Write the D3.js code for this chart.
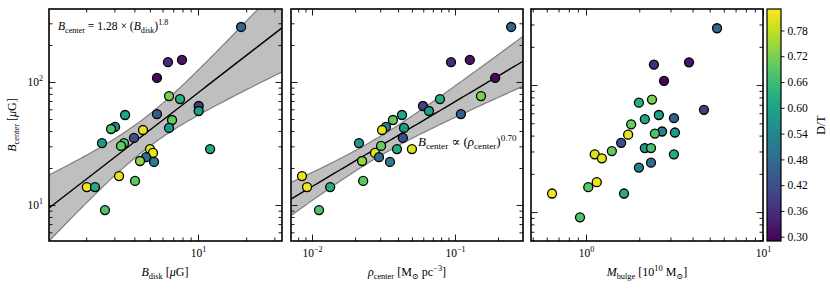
<!DOCTYPE html>
<html>
<head>
<meta charset="utf-8">
<script src="https://cdn.jsdelivr.net/npm/d3@7"></script>
<style>
body { margin: 0; background: #fff; }
text, tspan { font-family: "Liberation Serif", "DejaVu Serif", serif; fill: #000; }
</style>
</head>
<body>
<svg id="chart" width="830" height="291"></svg>
<script>
// one entry per galaxy, null = not shown in that panel
var bCenter = [280, 145, 151, 108, 76.9, 72.7, 63.8, 58.1, 53.9, 54.9, 49.1, 43.1, 41.5, 42.3, 40.7,
  35.1, 31.9, 31.9, 30.2, 28.5, 26.5, 24.5, 22.8, 22.4, 28.5, 17.2, 15.7, 14.0, 14.0, 9.1];
var bDisk = [18.6, 6.49, 7.94, 5.54, 6.59, 7.72, 10.1, 10.1, 3.50, 5.54, 6.88, 3.03, 2.86, 6.59, 4.53,
  3.98, 2.51, 3.45, 3.30, 5.01, 5.23, 4.73, 4.34, 5.31, 11.9, 3.21, 4.04, 2.02, 2.27, 2.62];
var rhoCenter = [0.247, 0.0938, 0.127, 0.191, 0.152, 0.0785, 0.0597, 0.0658, 0.0426, 0.110, 0.0368, 0.0329, null, 0.0440, 0.0309,
  0.0432, 0.0213, null, 0.0304, 0.0500, 0.0276, 0.0294, 0.0224, 0.0351, 0.0393, 0.00851, 0.0228, 0.00923, 0.0134, 0.0112];
var mBulge = [5.50, 2.42, 3.82, 2.76, 2.36, 1.99, 4.64, 2.58, 2.15, 3.14, 1.80, 2.69, 2.45, 3.18, 1.73,
  1.58, 2.15, 2.33, 1.40, 1.12, 1.23, 2.33, null, 1.99, 3.14, 1.15, 1.03, 0.643, 1.64, 0.925];
var diskToTotal = [0.47, 0.355, 0.32, 0.30, 0.72, 0.63, 0.39, 0.59, 0.61, 0.45, 0.70, 0.53, 0.68, 0.58, 0.81,
  0.42, 0.58, 0.67, 0.70, 0.80, 0.81, 0.48, 0.74, 0.52, 0.62, 0.81, 0.69, 0.82, 0.62, 0.68];

// fits: log10(B) = a + b*log10(x); band half width = sqrt(h0^2 + k^2 (log10 x - m)^2)
var fitDisk = [0.907, 1.005];
var bandDisk = [0.67, 0.13, 0.39];
var fitRho = [2.530, 0.69];
var bandRho = [-1.55, 0.079, 0.182];

var xLimDisk = [1.171, 33.5];
var xLimRho = [0.00713, 0.299];
var xLimBulge = [0.489, 10];
var yLimB = [5.10, 392];
var yLimBulgePanel = [5.92, 397];
var dtLim = [0.29, 0.83];
var dtTicks = [0.30, 0.36, 0.42, 0.48, 0.54, 0.60, 0.66, 0.72, 0.78];

var svg = d3.select("#chart");
var plotTop = 9, plotBottom = 241;
var color = d3.scaleSequential(d3.interpolateViridis).domain(dtLim);

var panels = [
  { xs: bDisk, xLim: xLimDisk, yLim: yLimB, left: 49, right: 282, fit: fitDisk, band: bandDisk, yLabels: true },
  { xs: rhoCenter, xLim: xLimRho, yLim: yLimB, left: 291, right: 523, fit: fitRho, band: bandRho, yLabels: false },
  { xs: mBulge, xLim: xLimBulge, yLim: yLimBulgePanel, left: 531, right: 763, fit: null, band: null, yLabels: false }
];

function isMajor(v) { return Math.abs(Math.log10(v) - Math.round(Math.log10(v))) < 1e-6; }

function powLabel(sel) {
  sel.each(function(d) {
    var t = d3.select(this);
    var e = Math.round(Math.log10(d));
    t.text("10");
    t.append("tspan").attr("dy", -5).attr("font-size", "8px").text(e < 0 ? "\u2212" + (-e) : e);
  });
}

function clean(g) { g.select(".domain").remove(); g.selectAll("line").attr("stroke-width", 0.9); }

panels.forEach(function(p, pi) {
  var x = d3.scaleLog().domain(p.xLim).range([p.left, p.right]);
  var y = d3.scaleLog().domain(p.yLim).range([plotBottom, plotTop]);
  var g = svg.append("g");

  var clipId = "clip" + pi;
  svg.append("clipPath").attr("id", clipId).append("rect")
    .attr("x", p.left).attr("y", plotTop).attr("width", p.right - p.left).attr("height", plotBottom - plotTop);
  var plot = g.append("g").attr("clip-path", "url(#" + clipId + ")");

  if (p.fit) {
    var lx0 = Math.log10(p.xLim[0]), lx1 = Math.log10(p.xLim[1]);
    var samples = d3.range(0, 81).map(function(i) { return lx0 + (lx1 - lx0) * i / 80; });
    var half = function(l) { return Math.sqrt(p.band[1] * p.band[1] + p.band[2] * p.band[2] * (l - p.band[0]) * (l - p.band[0])); };
    var mid = function(l) { return p.fit[0] + p.fit[1] * l; };
    plot.append("path").datum(samples)
      .attr("fill", "#bfbfbf")
      .attr("d", d3.area()
        .x(function(l) { return x(Math.pow(10, l)); })
        .y0(function(l) { return y(Math.pow(10, mid(l) - half(l))); })
        .y1(function(l) { return y(Math.pow(10, mid(l) + half(l))); }));
    [-1, 1].forEach(function(s) {
      plot.append("path").datum(samples)
        .attr("fill", "none").attr("stroke", "#7f7f7f").attr("stroke-width", 1.2)
        .attr("d", d3.line()
          .x(function(l) { return x(Math.pow(10, l)); })
          .y(function(l) { return y(Math.pow(10, mid(l) + s * half(l))); }));
    });
    plot.append("path").datum(samples)
      .attr("fill", "none").attr("stroke", "#000").attr("stroke-width", 1.4)
      .attr("d", d3.line()
        .x(function(l) { return x(Math.pow(10, l)); })
        .y(function(l) { return y(Math.pow(10, mid(l))); }));
  }

  var pts = d3.range(bCenter.length).filter(function(i) { return p.xs[i] != null; });
  plot.selectAll("circle").data(pts).enter().append("circle")
    .attr("cx", function(i) { return x(p.xs[i]); })
    .attr("cy", function(i) { return y(bCenter[i]); })
    .attr("r", 4.5)
    .attr("fill", function(i) { return color(diskToTotal[i]); })
    .attr("stroke", "#000").attr("stroke-width", 1.3);

  // ticks, all inward
  var xt = x.ticks(), yt = y.ticks();
  var xMaj = xt.filter(isMajor), xMin = xt.filter(function(v) { return !isMajor(v); });
  var yMaj = yt.filter(isMajor), yMin = yt.filter(function(v) { return !isMajor(v); });

  g.append("g").attr("transform", "translate(0," + plotBottom + ")")
    .call(d3.axisBottom(x).tickValues(xMaj).tickSize(-6.5).tickPadding(7.5))
    .call(clean).call(function(a) { a.selectAll("text").attr("font-size", "11.5px").call(powLabel); });
  g.append("g").attr("transform", "translate(0," + plotBottom + ")")
    .call(d3.axisBottom(x).tickValues(xMin).tickSize(-3.5).tickFormat("")).call(clean);
  g.append("g").attr("transform", "translate(0," + plotTop + ")")
    .call(d3.axisTop(x).tickValues(xMaj).tickSize(-6.5).tickFormat("")).call(clean);
  g.append("g").attr("transform", "translate(0," + plotTop + ")")
    .call(d3.axisTop(x).tickValues(xMin).tickSize(-3.5).tickFormat("")).call(clean);

  var la = d3.axisLeft(y).tickValues(yMaj).tickSize(-6.5).tickPadding(6);
  if (!p.yLabels) la.tickFormat("");
  g.append("g").attr("transform", "translate(" + p.left + ",0)").call(la).call(clean)
    .call(function(a) { if (p.yLabels) a.selectAll("text").attr("font-size", "11.5px").call(powLabel); });
  g.append("g").attr("transform", "translate(" + p.left + ",0)")
    .call(d3.axisLeft(y).tickValues(yMin).tickSize(-3.5).tickFormat("")).call(clean);
  g.append("g").attr("transform", "translate(" + p.right + ",0)")
    .call(d3.axisRight(y).tickValues(yMaj).tickSize(-6.5).tickFormat("")).call(clean);
  g.append("g").attr("transform", "translate(" + p.right + ",0)")
    .call(d3.axisRight(y).tickValues(yMin).tickSize(-3.5).tickFormat("")).call(clean);

  g.append("rect").attr("x", p.left).attr("y", plotTop)
    .attr("width", p.right - p.left).attr("height", plotBottom - plotTop)
    .attr("fill", "none").attr("stroke", "#000").attr("stroke-width", 1.6);
});

// rich text helper: parts = [text, style] with style in {i, sub, sup, r}
function rich(sel, parts, size) {
  var shift = 0;
  parts.forEach(function(pt) {
    var ts = sel.append("tspan").text(pt[0]);
    var want = pt[1] === "sub" ? 2.5 : pt[1] === "sup" ? -5 : 0;
    if (want !== shift) { ts.attr("dy", want - shift); shift = want; }
    if (pt[1] === "i") ts.attr("font-style", "italic");
    if (pt[1] === "sub" || pt[1] === "sup") ts.attr("font-size", (size * 0.7) + "px");
  });
}

// annotations
rich(svg.append("text").attr("x", 58).attr("y", 30).attr("font-size", "11.6px"),
  [["B", "i"], ["center", "sub"], [" = 1.28 \u00d7 (", "r"], ["B", "i"], ["disk", "sub"], [")", "r"], ["1.8", "sup"]], 11.6);
rich(svg.append("text").attr("x", 418).attr("y", 146).attr("font-size", "13px"),
  [["B", "i"], ["center", "sub"], [" \u221d (", "r"], ["\u03c1", "i"], ["center", "sub"], [")", "r"], ["0.70", "sup"]], 13);

// axis labels
rich(svg.append("text").attr("x", 165).attr("y", 276).attr("text-anchor", "middle").attr("font-size", "12px"),
  [["B", "i"], ["disk", "sub"], [" [", "r"], ["\u03bc", "i"], ["G]", "r"]], 12);
rich(svg.append("text").attr("x", 407).attr("y", 276).attr("text-anchor", "middle").attr("font-size", "12px"),
  [["\u03c1", "i"], ["center", "sub"], [" [M", "r"], ["\u2299", "sub"], [" pc", "r"], ["\u22123", "sup"], ["]", "r"]], 12);
rich(svg.append("text").attr("x", 647).attr("y", 276).attr("text-anchor", "middle").attr("font-size", "12px"),
  [["M", "i"], ["bulge", "sub"], [" [10", "r"], ["10", "sup"], [" M", "r"], ["\u2299", "sub"], ["]", "r"]], 12);
rich(svg.append("text").attr("transform", "translate(16,125) rotate(-90)").attr("text-anchor", "middle").attr("font-size", "12px"),
  [["B", "i"], ["center", "sub"], [" [", "r"], ["\u03bc", "i"], ["G]", "r"]], 12);

// colorbar
var cbLeft = 767, cbRight = 781;
var grad = svg.append("defs").append("linearGradient").attr("id", "viridisGrad")
  .attr("x1", 0).attr("y1", 1).attr("x2", 0).attr("y2", 0);
d3.range(0, 21).forEach(function(i) {
  grad.append("stop").attr("offset", (i / 20)).attr("stop-color", d3.interpolateViridis(i / 20));
});
svg.append("rect").attr("x", cbLeft).attr("y", plotTop).attr("width", cbRight - cbLeft).attr("height", plotBottom - plotTop)
  .attr("fill", "url(#viridisGrad)").attr("stroke", "#000").attr("stroke-width", 1.2);
var cb = d3.scaleLinear().domain(dtLim).range([plotBottom, plotTop]);
svg.append("g").attr("transform", "translate(" + cbRight + ",0)")
  .call(d3.axisRight(cb).tickValues(dtTicks).tickSize(3.5).tickPadding(3).tickFormat(d3.format(".2f")))
  .call(clean).call(function(a) { a.selectAll("text").attr("font-size", "11.5px"); });
svg.append("text").attr("transform", "translate(825,125) rotate(-90)").attr("text-anchor", "middle")
  .attr("font-size", "12px").text("D/T");
</script>
</body>
</html>
